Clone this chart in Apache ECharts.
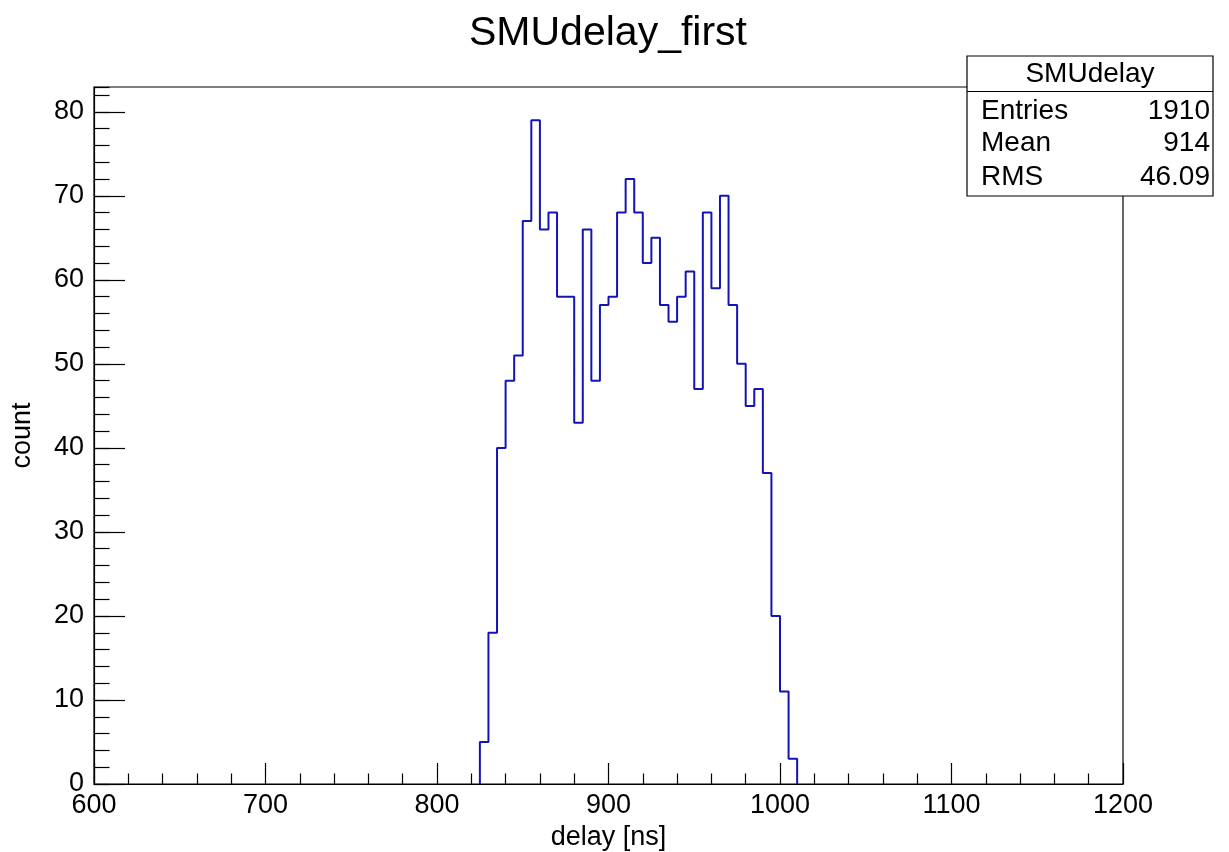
<!DOCTYPE html>
<html>
<head>
<meta charset="utf-8">
<script src="https://cdn.jsdelivr.net/npm/echarts@6/dist/echarts.min.js"></script>
<style>
html,body{margin:0;padding:0;background:#fff;}
#c{width:1229px;height:852px;}
</style>
</head>
<body>
<div id="c"></div>
<script>
// ---- data ----
const chartTitle = 'SMUdelay_first';
const xName = 'delay [ns]';
const yName = 'count';
const xMin = 600, xMax = 1200, xStep = 100;
const yMin = 0, yMax = 82.95, yStep = 10, yMinorStep = 2;
const binStart = 825;
const binWidth = 5;
const counts = [5, 18, 40, 48, 51, 67, 79, 66, 68, 58, 58, 43, 66, 48, 57, 58, 68, 72,
                68, 62, 65, 57, 55, 58, 61, 47, 68, 59, 70, 57, 50, 45, 47, 37, 20, 11, 3];
const statsTitle = 'SMUdelay';
const statsLabels = ['Entries', 'Mean', 'RMS'];
const statsValues = ['1910', '914', '46.09'];

// ---- build histogram outline from bins ----
const outline = [[binStart, 0]];
counts.forEach((c, i) => {
  const lo = binStart + i * binWidth;
  outline.push([lo, c], [lo + binWidth, c]);
});
outline.push([binStart + counts.length * binWidth, 0]);

const FONT = 'Liberation Sans';
const chart = echarts.init(document.getElementById('c'), null, {renderer: 'canvas'});

const G = {left: 94, top: 87, width: 1029, height: 697};
const box = {x: 967, y: 56, w: 246, h: 140, sep: 91.5};

const statsGraphics = [
  {type: 'rect', shape: {x: box.x, y: box.y, width: box.w, height: box.h},
   style: {fill: '#fff', stroke: '#000', lineWidth: 1.2}, z: 100},
  {type: 'line', shape: {x1: box.x, y1: box.sep, x2: box.x + box.w, y2: box.sep},
   style: {stroke: '#000', lineWidth: 1.2}, z: 101},
  {type: 'text', x: box.x + box.w / 2, y: 74, z: 101,
   style: {text: statsTitle, font: '28px "' + FONT + '"', fill: '#000', align: 'center', verticalAlign: 'middle'}}
];
const rowY = [111, 143.5, 177];
statsLabels.forEach((lab, i) => {
  statsGraphics.push({type: 'text', x: 981, y: rowY[i], z: 101,
    style: {text: lab, font: '28px "' + FONT + '"', fill: '#000', align: 'left', verticalAlign: 'middle'}});
  statsGraphics.push({type: 'text', x: 1210, y: rowY[i], z: 101,
    style: {text: statsValues[i], font: '28px "' + FONT + '"', fill: '#000', align: 'right', verticalAlign: 'middle'}});
});

chart.setOption({
  animation: false,
  backgroundColor: '#fff',
  title: {
    text: chartTitle, left: 603, top: 8, textAlign: 'center',
    textStyle: {fontFamily: FONT, fontSize: 41, fontWeight: 'normal', color: '#000'}
  },
  grid: {left: G.left, top: G.top, width: G.width, height: G.height, show: true,
         containLabel: false, outerBoundsMode: 'none',
         borderColor: '#000', borderWidth: 1.2, backgroundColor: 'transparent'},
  xAxis: {
    type: 'value', min: xMin, max: xMax, interval: xStep,
    name: xName, nameLocation: 'middle', nameGap: 33,
    nameTextStyle: {fontFamily: FONT, fontSize: 27, color: '#000'},
    axisLine: {show: true, lineStyle: {color: '#000', width: 1.2}},
    axisTick: {show: true, inside: true, length: 21, lineStyle: {color: '#000', width: 1.2}},
    minorTick: {show: true, splitNumber: 5, length: 10.5, lineStyle: {color: '#000', width: 1.2}},
    axisLabel: {fontFamily: FONT, fontSize: 27, color: '#000', margin: 8, formatter: v => String(v)},
    splitLine: {show: false}, minorSplitLine: {show: false}
  },
  yAxis: [{
    type: 'value', min: yMin, max: yMax, interval: yStep,
    name: yName, nameLocation: 'middle', nameGap: 58, nameRotate: 90,
    nameTextStyle: {fontFamily: FONT, fontSize: 27, color: '#000'},
    axisLine: {show: true, lineStyle: {color: '#000', width: 1.2}},
    axisTick: {show: true, inside: true, length: 31, lineStyle: {color: '#000', width: 1.2}},
    axisLabel: {fontFamily: FONT, fontSize: 27, color: '#000', margin: 10, showMaxLabel: false,
      formatter: v => (Math.abs(v % yStep) < 1e-9 ? String(v) : '')},
    splitLine: {show: false}
  }, {
    type: 'value', min: yMin, max: yMax, interval: yMinorStep, position: 'left',
    axisLine: {show: false},
    axisTick: {show: true, inside: true, length: 15.5, lineStyle: {color: '#000', width: 1.2}},
    axisLabel: {show: false},
    splitLine: {show: false}
  }],
  series: [{
    type: 'line', xAxisIndex: 0, yAxisIndex: 0,
    data: outline, showSymbol: false, symbol: 'none',
    lineStyle: {color: '#1414b4', width: 2},
    z: 5
  }],
  graphic: statsGraphics
});
</script>
</body>
</html>
